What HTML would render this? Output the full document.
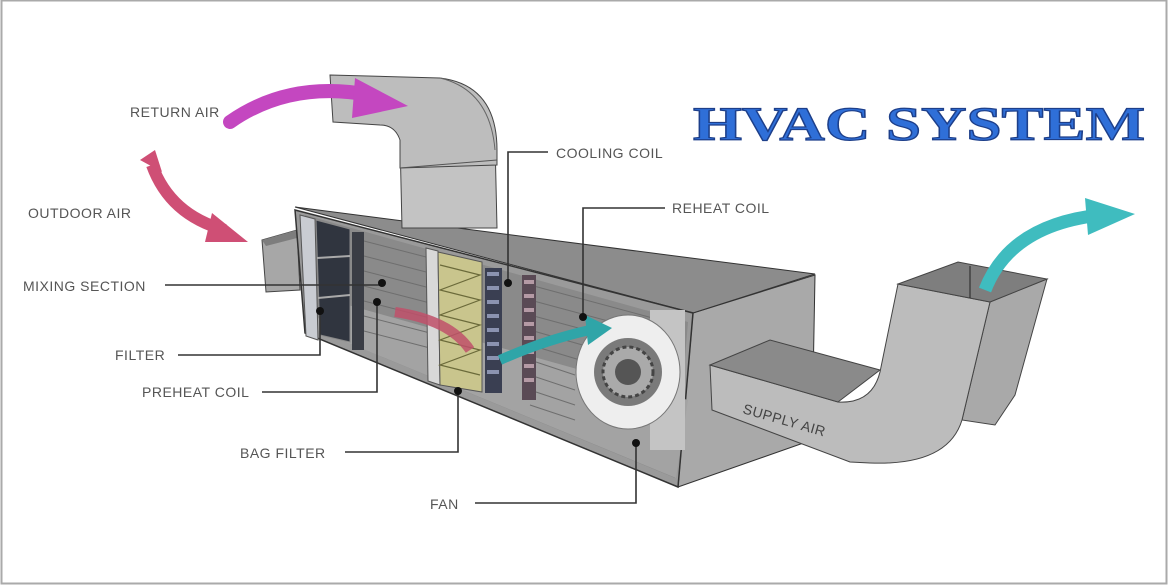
<!DOCTYPE html>
<html><head><meta charset="utf-8"><style>
html,body{margin:0;padding:0;background:#fff}
svg{display:block}
.l{font-family:"Liberation Sans Narrow","Liberation Sans",sans-serif;font-size:14px;fill:#555;letter-spacing:0.5px}
.ln{stroke:#333;stroke-width:1.6;fill:none}
</style></head><body>
<svg width="1170" height="585" viewBox="0 0 1170 585" xmlns="http://www.w3.org/2000/svg">
<rect x="1.5" y="0.5" width="1165" height="583" fill="#fff" stroke="#aaa" stroke-width="2"/>
<text x="693" y="140" font-family="Liberation Serif,serif" font-weight="bold" font-size="48" fill="#2f6fd8" stroke="#1d3f8a" stroke-width="1.2" textLength="452" lengthAdjust="spacingAndGlyphs">HVAC SYSTEM</text>

<polygon points="262,240 297,230 300,290 266,292" fill="#a7a7a7" stroke="#444"/>
<polygon points="262,240 297,230 297,238 266,246" fill="#7d7d7d"/>

<polygon points="693,313 815,275 812,440 678,487" fill="#a9a9a9" stroke="#333"/>
<polygon points="295,207 815,274 693,313" fill="#8c8c8c" stroke="#333"/>
<polygon points="295,210 693,313 678,487 305,333" fill="#9a9a9a" stroke="#333" stroke-width="1.5"/>
<polygon points="305,215 688,322 675,478 312,328" fill="#8a8a8a"/>
<polygon points="330,300 688,400 676,478 312,328" fill="#a3a3a3"/>
<g stroke="#6e6e6e" stroke-width="1">
<line x1="360" y1="240" x2="430" y2="258"/><line x1="360" y1="255" x2="430" y2="273"/>
<line x1="360" y1="270" x2="430" y2="288"/><line x1="360" y1="285" x2="430" y2="303"/>
<line x1="360" y1="300" x2="430" y2="318"/><line x1="360" y1="315" x2="430" y2="333"/>
<line x1="360" y1="330" x2="430" y2="348"/>
<line x1="530" y1="285" x2="660" y2="320"/><line x1="530" y1="300" x2="660" y2="335"/>
<line x1="530" y1="315" x2="660" y2="350"/><line x1="530" y1="330" x2="600" y2="350"/>
<line x1="530" y1="345" x2="580" y2="360"/><line x1="530" y1="360" x2="575" y2="375"/>
<line x1="530" y1="375" x2="575" y2="390"/><line x1="530" y1="390" x2="575" y2="405"/>
<line x1="530" y1="405" x2="575" y2="420"/>
</g>
<polygon points="300,215 315,219 318,340 306,336" fill="#c9ccd2" stroke="#555"/>
<polygon points="316,220 350,229 350,342 320,335" fill="#30353f" stroke="#888"/>
<line x1="317" y1="258" x2="350" y2="256" stroke="#aaa" stroke-width="2"/>
<line x1="318" y1="298" x2="350" y2="295" stroke="#aaa" stroke-width="2"/>
<rect x="352" y="232" width="12" height="118" fill="#3a3d45"/>
<polygon points="426,248 438,251 440,385 428,381" fill="#d8d8d8" stroke="#555"/>
<polygon points="438,252 482,262 482,392 440,385" fill="#c9c58d" stroke="#555"/>
<g stroke="#6b6a3a" stroke-width="1.2" fill="none">
<polyline points="440,265 480,275 440,290 480,300 440,315 480,325 440,340 480,350 440,365 480,375"/>
</g>
<rect x="485" y="268" width="17" height="125" fill="#3a3f52"/>
<g fill="#8b93b0"><rect x="487" y="272" width="12" height="4"/><rect x="487" y="286" width="12" height="4"/><rect x="487" y="300" width="12" height="4"/><rect x="487" y="314" width="12" height="4"/><rect x="487" y="328" width="12" height="4"/><rect x="487" y="342" width="12" height="4"/><rect x="487" y="356" width="12" height="4"/><rect x="487" y="370" width="12" height="4"/></g>
<rect x="522" y="275" width="14" height="125" fill="#5a4a55"/>
<g fill="#b59aa5"><rect x="524" y="280" width="10" height="4"/><rect x="524" y="294" width="10" height="4"/><rect x="524" y="308" width="10" height="4"/><rect x="524" y="322" width="10" height="4"/><rect x="524" y="336" width="10" height="4"/><rect x="524" y="350" width="10" height="4"/><rect x="524" y="364" width="10" height="4"/><rect x="524" y="378" width="10" height="4"/></g>
<rect x="650" y="310" width="35" height="140" fill="#c4c4c4"/>
<ellipse cx="628" cy="372" rx="52" ry="57" fill="#eeeeee" stroke="#777"/>
<circle cx="628" cy="372" r="34" fill="#7a7a7a"/>
<circle cx="628" cy="372" r="25" fill="#aaa" stroke="#444" stroke-width="3" stroke-dasharray="4 3"/>
<circle cx="628" cy="372" r="13" fill="#555"/>
<path d="M395,312 Q450,320 470,350" stroke="#c0506a" stroke-width="10" fill="none" opacity="0.85"/>
<path d="M500,360 Q545,340 590,330" stroke="#2fa5a8" stroke-width="10" fill="none"/>
<polygon points="585,315 612,328 588,345" fill="#2fa5a8"/>

<polygon points="400,140 495,140 497,228 402,228" fill="#c3c3c3" stroke="#444"/>
<path d="M330,75 L440,78 Q497,85 497,150 L497,165 L400,168 L400,140 Q395,125 380,125 L333,122 Z" fill="#bdbdbd" stroke="#444"/>
<path d="M440,78 Q490,90 495,150" stroke="#666" fill="none"/>
<line x1="400" y1="168" x2="497" y2="160" stroke="#555"/>

<!-- supply duct -->
<polygon points="990,302 1047,279 1015,395 995,425 962,420" fill="#a9a9a9" stroke="#444"/>
<path d="M710,365 L838,402 Q872,404 880,372 L898,284 L990,302 L962,420 Q948,466 870,463 L850,462 L712,410 Z" fill="#bcbcbc" stroke="#444"/>
<polygon points="710,365 770,340 880,370 838,402" fill="#8a8a8a" stroke="#444"/>
<polygon points="898,284 958,262 1047,279 990,302" fill="#7e7e7e" stroke="#444"/>
<line x1="970" y1="266" x2="970" y2="298" stroke="#222"/>
<text x="0" y="0" transform="translate(742,413) rotate(16)" class="l" style="font-size:14px;fill:#444">SUPPLY AIR</text>

<path d="M230,122 Q290,80 370,95" stroke="#c447c0" stroke-width="14" fill="none" stroke-linecap="round"/>
<polygon points="355,78 408,106 352,118" fill="#c447c0"/>
<path d="M152,165 Q170,215 225,230" stroke="#cf4f75" stroke-width="12" fill="none"/>
<polygon points="212,213 248,242 205,242" fill="#cf4f75"/>
<polygon points="140,160 155,150 162,172" fill="#cf4f75"/>
<path d="M985,290 Q1010,225 1100,215" stroke="#3fbcbf" stroke-width="13" fill="none"/>
<polygon points="1085,198 1135,214 1088,235" fill="#3fbcbf"/>

<text x="130" y="117" class="l">RETURN AIR</text>
<text x="28" y="218" class="l">OUTDOOR AIR</text>
<text x="23" y="291" class="l">MIXING SECTION</text>
<polyline class="ln" points="165,285 382,285"/><circle cx="382" cy="283" r="4" fill="#111"/>
<text x="115" y="360" class="l">FILTER</text>
<polyline class="ln" points="178,355 320,355 320,312"/><circle cx="320" cy="311" r="4" fill="#111"/>
<text x="142" y="397" class="l">PREHEAT COIL</text>
<polyline class="ln" points="262,392 377,392 377,302"/><circle cx="377" cy="302" r="4" fill="#111"/>
<text x="240" y="458" class="l">BAG FILTER</text>
<polyline class="ln" points="345,452 458,452 458,392"/><circle cx="458" cy="391" r="4" fill="#111"/>
<text x="430" y="509" class="l">FAN</text>
<polyline class="ln" points="475,503 636,503 636,445"/><circle cx="636" cy="443" r="4" fill="#111"/>
<text x="556" y="158" class="l">COOLING COIL</text>
<polyline class="ln" points="548,152 508,152 508,283"/><circle cx="508" cy="283" r="4" fill="#111"/>
<text x="672" y="213" class="l">REHEAT COIL</text>
<polyline class="ln" points="665,208 583,208 583,317"/><circle cx="583" cy="317" r="4" fill="#111"/>
</svg>
</body></html>
